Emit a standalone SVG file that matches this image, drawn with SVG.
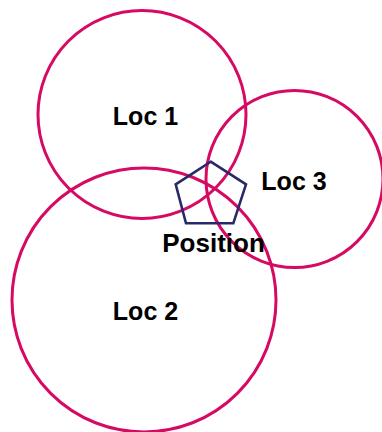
<svg xmlns="http://www.w3.org/2000/svg" width="382" height="432" viewBox="0 0 382 432">
<style>
.loc{fill:none;stroke:#d60a62;stroke-width:3}
.lbl{font-family:"Liberation Sans",Arial,sans-serif;font-weight:bold;font-size:25px;fill:#000;text-anchor:middle}
.pos{fill:none;stroke:#28286a;stroke-width:2.6;stroke-linejoin:miter}
</style>
<rect width="382" height="432" fill="#fff"/>
<g id="loc1"><circle class="loc" cx="142" cy="114.5" r="104"/><text class="lbl" x="145.5" y="124.5">Loc 1</text></g>
<g id="loc2"><circle class="loc" cx="144" cy="300" r="132"/><text class="lbl" x="145.5" y="319.5">Loc 2</text></g>
<g id="loc3"><circle class="loc" cx="294.5" cy="179" r="88.5"/><text class="lbl" x="294" y="189.5">Loc 3</text></g>
<g id="position"><polygon class="pos" points="210.7,161.7 246,184.3 233.3,223.3 186,223.3 175.7,184.3"/><text class="lbl" x="213.5" y="251.5" style="font-size:26px">Position</text></g>
</svg>
